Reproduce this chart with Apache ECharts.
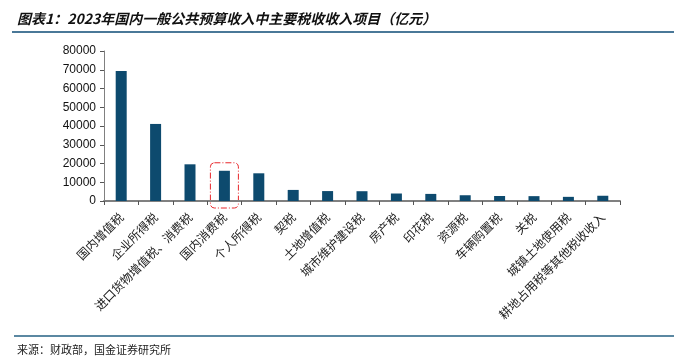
<!DOCTYPE html>
<html><head><meta charset="utf-8">
<script src="https://cdn.jsdelivr.net/npm/echarts@6/dist/echarts.min.js"></script>
<style>html,body{margin:0;padding:0;background:#fff}#c{width:674px;height:360px}</style>
</head><body><div id="c"></div>
<script>
const categories = ['国内增值税','企业所得税','进口货物增值税、消费税','国内消费税','个人所得税','契税','土地增值税','城市维护建设税','房产税','印花税','资源税','车辆购置税','关税','城镇土地使用税','耕地占用税等其他税收收入'];
const values = [69332,41098,19568,16118,14775,5910,5294,5223,3994,3784,3070,2681,2591,2213,2800];
const yTicks = [0,10000,20000,30000,40000,50000,60000,70000,80000];
const highlightIndex = 3;

const chart = echarts.init(document.getElementById('c'));
const cjk = '"Noto Sans CJK SC", sans-serif';
const staticGraphics = [
  {type:'line',shape:{x1:12,y1:32,x2:674,y2:32},style:{stroke:'#4a7898',lineWidth:2}},
  {type:'line',shape:{x1:14,y1:336,x2:674,y2:336},style:{stroke:'#5b88a2',lineWidth:2}},
  {type:'text',left:17,top:344,style:{text:'来源：财政部，国金证券研究所',fontSize:11,fill:'#222',fontFamily:cjk}}
];
chart.setOption({
  animation:false,
  title:{text:'图表1：2023年国内一般公共预算收入中主要税收收入项目（亿元）',left:12,top:7,
    textStyle:{fontSize:14,fontWeight:'bold',fontStyle:'italic',color:'#111',fontFamily:cjk}},
  grid:{left:104,right:54,top:51,bottom:159},
  xAxis:{type:'category',data:categories,
    axisLine:{lineStyle:{color:'#808080',width:2}},
    axisTick:{show:true,alignWithLabel:false,length:4,lineStyle:{color:'#555'}},
    axisLabel:{rotate:45,interval:0,fontSize:12,color:'#222',fontFamily:cjk,margin:14}},
  yAxis:{type:'value',min:0,max:80000,interval:10000,
    axisLine:{show:true,lineStyle:{color:'#808080',width:1}},
    axisTick:{show:true,length:4,lineStyle:{color:'#555'}},
    splitLine:{show:false},
    axisLabel:{fontSize:12,color:'#111',fontFamily:'Liberation Sans, Arial',
      formatter:v=>yTicks.includes(v)?String(v):''}},
  series:[{type:'bar',data:values,barWidth:11,itemStyle:{color:'#0d4a6e'}}],
  graphic:staticGraphics
});
const p = chart.convertToPixel({xAxisIndex:0,yAxisIndex:0},[highlightIndex, values[highlightIndex]]);
const p0 = chart.convertToPixel({xAxisIndex:0,yAxisIndex:0},[highlightIndex, 0]);
chart.setOption({graphic:staticGraphics.concat([
  {type:'rect',shape:{x:p[0]-14,y:p[1]-8,width:28,height:(p0[1]-p[1])+15,r:4},
    style:{fill:'none',stroke:'#e8262a',lineWidth:1,lineDash:[6,2,1,2]}}
])});
</script></body></html>
